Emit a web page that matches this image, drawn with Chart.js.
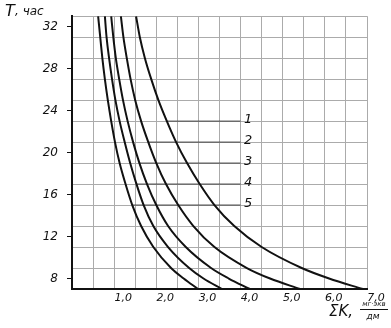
<!DOCTYPE html>
<html>
<head>
    <title>T от ΣK</title>
    <script src="https://cdn.jsdelivr.net/npm/chart.js"></script>
    <style>
        body { margin: 0; background: #fff; }
        #chart { display: block; }
    </style>
</head>
<body>
    <canvas id="chart" width="391" height="328"></canvas>
    <script>
        // T, час - общие значения по оси Y для всех кривых
        const tValues = [33, 31, 29, 27, 25, 23, 21, 19, 17, 15, 13, 11, 9, 8, 7];
        // ΣK для кривых 1..5 (1 - крайняя правая)
        const curve1 = [1.52, 1.61, 1.73, 1.88, 2.05, 2.25, 2.47, 2.73, 3.03, 3.38, 3.85, 4.50, 5.45, 6.10, 6.90];
        const curve2 = [1.16, 1.22, 1.30, 1.39, 1.50, 1.64, 1.81, 2.00, 2.23, 2.52, 2.88, 3.38, 4.15, 4.70, 5.41];
        const curve3 = [0.93, 0.98, 1.04, 1.12, 1.21, 1.32, 1.45, 1.60, 1.78, 2.00, 2.28, 2.70, 3.30, 3.72, 4.22];
        const curve4 = [0.78, 0.82, 0.88, 0.95, 1.03, 1.13, 1.25, 1.38, 1.53, 1.70, 1.93, 2.28, 2.78, 3.12, 3.56];
        const curve5 = [0.62, 0.67, 0.72, 0.78, 0.85, 0.93, 1.02, 1.13, 1.27, 1.43, 1.64, 1.93, 2.35, 2.65, 2.99];
        const curves = [curve1, curve2, curve3, curve4, curve5];
        const curveNames = ['1', '2', '3', '4', '5'];

        // выноски к номерам кривых
        const leaderT = [23, 21, 19, 17, 15];
        const leaderStartK = [2.25, 1.81, 1.60, 1.53, 1.43];
        const leaderEndK = 4.0;
        const labelK = 4.08;

        const xTickValues = [1, 2, 3, 4, 5, 6, 7];
        const yTickValues = [8, 12, 16, 20, 24, 28, 32];

        const FONT = "'DejaVu Sans', sans-serif";
        const gridGray = '#ababab';

        const datasets = [];
        curves.forEach((k, i) => {
            datasets.push({
                label: 'curve ' + curveNames[i],
                data: tValues.map((t, j) => ({ x: k[j], y: t })),
                borderColor: '#111',
                borderWidth: 2,
                pointRadius: 0,
                showLine: true,
                cubicInterpolationMode: 'monotone'
            });
        });
        leaderT.forEach((t, i) => {
            datasets.push({
                label: 'leader ' + curveNames[i],
                data: [{ x: leaderStartK[i], y: t }, { x: leaderEndK, y: t }],
                borderColor: '#444',
                borderWidth: 1,
                pointRadius: 0,
                showLine: true
            });
        });

        const textPlugin = {
            id: 'texts',
            afterDraw(chart) {
                const ctx = chart.ctx;
                const xs = chart.scales.x, ys = chart.scales.y;
                ctx.save();
                ctx.fillStyle = '#111';

                // номера кривых
                ctx.font = 'italic 13px ' + FONT;
                ctx.textBaseline = 'middle';
                curveNames.forEach((n, i) => {
                    ctx.fillText(n, xs.getPixelForValue(labelK), ys.getPixelForValue(leaderT[i]) - 1);
                });

                // подпись оси Y
                ctx.textBaseline = 'alphabetic';
                ctx.font = 'italic 16px ' + FONT;
                ctx.fillText('T', 5, 16);
                ctx.font = 'italic 12px ' + FONT;
                ctx.fillText(', час', 15, 15);

                // подпись оси X
                ctx.font = 'italic 15px ' + FONT;
                ctx.fillText('ΣK,', 329, 316);
                ctx.font = 'italic 7px ' + FONT;
                ctx.textAlign = 'center';
                ctx.fillText('мг·экв', 374, 306);
                ctx.font = 'italic 9px ' + FONT;
                ctx.fillText('дм', 373, 319);
                ctx.strokeStyle = '#111';
                ctx.lineWidth = 1;
                ctx.beginPath();
                ctx.moveTo(360, 309.5);
                ctx.lineTo(388, 309.5);
                ctx.stroke();
                ctx.restore();
            }
        };

        new Chart(document.getElementById('chart'), {
            type: 'scatter',
            data: { datasets: datasets },
            options: {
                responsive: false,
                animation: false,
                layout: { padding: { left: 0, top: 16, right: 24, bottom: 0 } },
                plugins: {
                    legend: { display: false },
                    tooltip: { enabled: false }
                },
                scales: {
                    x: {
                        type: 'linear',
                        min: 0,
                        max: 7,
                        afterFit: s => { s.height = 39; },
                        border: { color: '#111', width: 2 },
                        grid: {
                            color: gridGray,
                            lineWidth: 1,
                            drawTicks: false
                        },
                        ticks: {
                            stepSize: 0.5,
                            autoSkip: false,
                            maxRotation: 0,
                            padding: 3,
                            labelOffset: 9,
                            color: '#111',
                            font: { family: FONT, size: 11, style: 'italic' },
                            callback: v => xTickValues.includes(v) ? v.toFixed(1).replace('.', ',') : ''
                        }
                    },
                    y: {
                        type: 'linear',
                        min: 7,
                        max: 33,
                        afterFit: s => { s.width = 72; },
                        border: { color: '#111', width: 2 },
                        grid: {
                            color: ctx => (ctx.tick && ctx.tick.value % 2 === 1) ? gridGray : 'rgba(0,0,0,0)',
                            tickColor: ctx => (ctx.tick && yTickValues.includes(ctx.tick.value)) ? '#111' : 'rgba(0,0,0,0)',
                            tickLength: 5,
                            lineWidth: 1
                        },
                        ticks: {
                            stepSize: 1,
                            autoSkip: false,
                            padding: 9,
                            color: '#111',
                            font: { family: FONT, size: 12, style: 'italic' },
                            callback: v => yTickValues.includes(v) ? String(v) : ''
                        }
                    }
                }
            },
            plugins: [textPlugin]
        });
    </script>
</body>
</html>
